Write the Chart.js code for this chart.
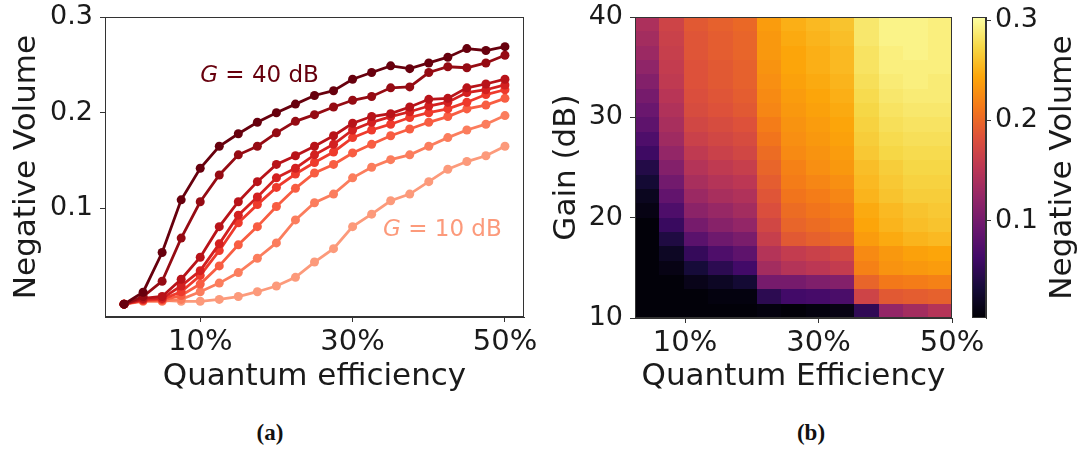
<!DOCTYPE html>
<html><head><meta charset="utf-8">
<script src="https://cdn.jsdelivr.net/npm/chart.js@4.4.1/dist/chart.umd.min.js"></script>
<style>
html,body{margin:0;padding:0;background:#fff;}
#wrap{position:relative;width:1085px;height:450px;overflow:hidden;background:#fff;}
canvas{position:absolute;top:0;}
.cap{position:absolute;top:433px;font-family:"Liberation Serif","Times New Roman",serif;font-weight:bold;font-size:23px;color:#111;transform:translate(-50%,-50%);white-space:nowrap;}
</style></head><body>
<div id="wrap">
<canvas id="ca" width="540" height="400" style="left:0px"></canvas>
<canvas id="cb" width="545" height="400" style="left:540px"></canvas>
<canvas id="cc" width="125" height="400" style="left:960px"></canvas>
<div class="cap" style="left:270px">(a)</div>
<div class="cap" style="left:811px">(b)</div>
</div>
<script>
// ---------- panel (a) data ----------
const efficiency = [0,2.5,5,7.5,10,12.5,15,17.5,20,22.5,25,27.5,30,32.5,35,37.5,40,42.5,45,47.5,50];
const gainLabels = ['G = 40 dB','G = 35 dB','G = 30 dB','G = 25 dB','G = 20 dB','G = 15 dB','G = 12.5 dB','G = 10 dB'];
const nvG40 = [0.000,0.0125,0.054,0.109,0.142,0.165,0.178,0.190,0.200,0.209,0.218,0.223,0.235,0.242,0.249,0.246,0.252,0.258,0.267,0.265,0.269];
const nvG35 = [0.000,0.008,0.024,0.069,0.107,0.135,0.156,0.165,0.179,0.191,0.198,0.206,0.213,0.217,0.226,0.227,0.242,0.248,0.247,0.252,0.260];
const nvG30 = [0.000,0.006,0.008,0.026,0.049,0.081,0.107,0.128,0.146,0.155,0.165,0.176,0.189,0.196,0.199,0.206,0.214,0.215,0.226,0.230,0.235];
const nvG25 = [0.000,0.005,0.006,0.019,0.035,0.063,0.093,0.112,0.132,0.142,0.156,0.167,0.182,0.190,0.196,0.201,0.207,0.211,0.221,0.224,0.229];
const nvG20 = [0.000,0.004,0.005,0.013,0.030,0.056,0.085,0.104,0.122,0.136,0.148,0.159,0.174,0.182,0.188,0.195,0.200,0.204,0.211,0.219,0.224];
const nvG15 = [0.000,0.004,0.004,0.009,0.021,0.040,0.062,0.081,0.102,0.121,0.137,0.146,0.158,0.167,0.176,0.183,0.190,0.196,0.204,0.208,0.215];
const nvG12 = [0.000,0.003,0.003,0.005,0.013,0.022,0.033,0.048,0.064,0.088,0.106,0.115,0.132,0.143,0.151,0.156,0.165,0.174,0.182,0.188,0.197];
const nvG10 = [0.000,0.006,0.004,0.003,0.003,0.005,0.008,0.013,0.019,0.028,0.044,0.058,0.081,0.094,0.108,0.115,0.128,0.141,0.149,0.155,0.165];
const seriesA = [nvG40,nvG35,nvG30,nvG25,nvG20,nvG15,nvG12,nvG10];
const lineColors = ['#67000d','#950b13','#b81319','#d32020','#ee3a2c','#f85d42','#fb7d5d','#fc9a7b'];
const xTicksA = [10,30,50];
const yTicksA = [0.1,0.2,0.3];

// ---------- panel (b) data ----------
// column centres (quantum efficiency, %) and row centres (gain, dB)
const heatEff = [4.33,7.98,11.63,15.29,18.94,22.60,26.25,29.90,33.56,37.21,40.87,44.52,48.17];
const heatGain = [10.71,12.14,13.57,15.00,16.43,17.86,19.29,20.71,22.14,23.57,25.00,26.43,27.86,29.29,30.71,32.14,33.57,35.00,36.43,37.86,39.29];
// negative volume per efficiency column, listed from lowest gain to highest gain
const nvEta01 = [0.006,0.006,0.006,0.006,0.006,0.006,0.006,0.012,0.018,0.030,0.042,0.060,0.072,0.084,0.093,0.102,0.111,0.120,0.129,0.135,0.141];
const nvEta02 = [0.006,0.006,0.006,0.012,0.021,0.039,0.057,0.072,0.087,0.099,0.111,0.123,0.132,0.138,0.144,0.150,0.156,0.159,0.162,0.165,0.168];
const nvEta03 = [0.006,0.006,0.015,0.033,0.054,0.081,0.102,0.117,0.129,0.138,0.147,0.156,0.165,0.171,0.177,0.180,0.183,0.183,0.186,0.186,0.189];
const nvEta04 = [0.006,0.009,0.021,0.048,0.072,0.096,0.114,0.126,0.138,0.147,0.156,0.165,0.171,0.177,0.183,0.186,0.189,0.189,0.192,0.192,0.195];
const nvEta05 = [0.006,0.009,0.030,0.063,0.084,0.105,0.123,0.135,0.144,0.153,0.162,0.171,0.177,0.183,0.189,0.192,0.195,0.195,0.198,0.198,0.201];
const nvEta06 = [0.009,0.048,0.102,0.135,0.147,0.162,0.171,0.180,0.186,0.192,0.198,0.204,0.210,0.216,0.222,0.225,0.228,0.231,0.234,0.234,0.237];
const nvEta07 = [0.006,0.063,0.102,0.147,0.159,0.189,0.198,0.204,0.210,0.216,0.219,0.225,0.228,0.231,0.234,0.237,0.240,0.243,0.243,0.246,0.249];
const nvEta08 = [0.009,0.066,0.108,0.153,0.165,0.195,0.204,0.210,0.216,0.222,0.228,0.231,0.234,0.237,0.240,0.243,0.246,0.249,0.249,0.252,0.255];
const nvEta09 = [0.012,0.069,0.111,0.159,0.171,0.201,0.210,0.216,0.222,0.228,0.234,0.237,0.240,0.243,0.246,0.249,0.252,0.255,0.255,0.258,0.261];
const nvEta10 = [0.051,0.168,0.198,0.219,0.225,0.237,0.243,0.246,0.252,0.255,0.258,0.264,0.267,0.270,0.273,0.276,0.279,0.282,0.282,0.285,0.285];
const nvEta11 = [0.123,0.189,0.213,0.231,0.234,0.246,0.252,0.255,0.261,0.264,0.267,0.273,0.276,0.279,0.282,0.285,0.288,0.291,0.291,0.294,0.294];
const nvEta12 = [0.135,0.192,0.216,0.234,0.240,0.252,0.258,0.261,0.267,0.270,0.273,0.276,0.279,0.282,0.285,0.288,0.291,0.291,0.294,0.294,0.294];
const nvEta13 = [0.147,0.195,0.219,0.237,0.243,0.255,0.261,0.264,0.267,0.270,0.273,0.276,0.279,0.282,0.285,0.288,0.288,0.291,0.291,0.291,0.291];
const heatColumns = [nvEta01,nvEta02,nvEta03,nvEta04,nvEta05,nvEta06,nvEta07,nvEta08,nvEta09,nvEta10,nvEta11,nvEta12,nvEta13];
const xTicksB = [10,30,50];
const yTicksB = [10,20,30,40];
const cbTicks = [0.1,0.2,0.3];
const cbMin = 0.003, cbMax = 0.303;

// ---------- helpers ----------
const FONT = '"DejaVu Sans", Verdana, sans-serif';
const TXT = '#1a1a1a';
const INFERNO = ['#000004','#160b39','#420a68','#6a176e','#932667','#bc3754','#dd513a','#f37819','#fca50a','#f6d746','#fcffa4'];
const infRGB = INFERNO.map(h=>[parseInt(h.slice(1,3),16),parseInt(h.slice(3,5),16),parseInt(h.slice(5,7),16)]);
function inferno(t){
  t = Math.max(0,Math.min(1,t));
  const p = t*(infRGB.length-1); const i = Math.min(Math.floor(p), infRGB.length-2); const f = p-i;
  const a = infRGB[i], b = infRGB[i+1];
  return 'rgb('+Math.round(a[0]+(b[0]-a[0])*f)+','+Math.round(a[1]+(b[1]-a[1])*f)+','+Math.round(a[2]+(b[2]-a[2])*f)+')';
}
function edges(c){
  const e = [];
  e.push(c[0]-(c[1]-c[0])/2);
  for(let i=0;i<c.length-1;i++) e.push((c[i]+c[i+1])/2);
  e.push(c[c.length-1]+(c[c.length-1]-c[c.length-2])/2);
  return e;
}
const frame = {
  id:'frame',
  afterDraw(chart){
    const {ctx, chartArea:a} = chart;
    ctx.save(); ctx.strokeStyle='#333'; ctx.lineWidth=1;
    ctx.strokeRect(Math.round(a.left)+0.5, Math.round(a.top)+0.5, Math.round(a.right-a.left)-1, Math.round(a.bottom-a.top)-1);
    ctx.restore();
  }
};
const tickGrid = {display:true, drawOnChartArea:false, drawTicks:true, tickLength:5, color:'#333', lineWidth:1};
const noPad = s=>{s.paddingLeft=0;s.paddingRight=0;s.paddingTop=0;s.paddingBottom=0;};

// ---------- panel (a) ----------
const annotations = [
  {g:'G', rest:' = 40 dB', x:10.0, y:0.2385, color:lineColors[0]},
  {g:'G', rest:' = 10 dB', x:34.0, y:0.077, color:lineColors[7]}
];
const annot = {
  id:'annot',
  afterDatasetsDraw(chart){
    const {ctx, scales:{x,y}} = chart;
    ctx.save(); ctx.textBaseline='middle'; ctx.textAlign='left';
    annotations.forEach(a=>{
      const px = x.getPixelForValue(a.x), py = y.getPixelForValue(a.y);
      ctx.fillStyle = a.color;
      ctx.font = 'italic 23px '+FONT; ctx.fillText(a.g, px, py);
      const w = ctx.measureText(a.g).width;
      ctx.font = '23px '+FONT; ctx.fillText(a.rest, px+w, py);
    });
    ctx.restore();
  }
};
new Chart(document.getElementById('ca'), {
  type:'line',
  data:{datasets: seriesA.map((s,k)=>({
    label: gainLabels[k],
    data: efficiency.map((e,i)=>({x:e, y:s[i]})),
    borderColor: lineColors[k], backgroundColor: lineColors[k],
    pointBackgroundColor: lineColors[k], pointBorderColor: lineColors[k],
    pointRadius:4.5, pointBorderWidth:0, borderWidth:2.8, tension:0, fill:false
  }))},
  options:{
    responsive:false, animation:false, devicePixelRatio:1,
    layout:{padding:{top:17,right:16,left:0,bottom:0}},
    plugins:{legend:{display:false}, tooltip:{enabled:false}},
    scales:{
      x:{type:'linear', min:-2.5, max:52.5,
        afterBuildTicks:s=>{s.ticks = xTicksA.map(v=>({value:v}));},
        afterFit:s=>{s.height=83; noPad(s);},
        ticks:{callback:v=>v+'%', font:{family:FONT,size:29}, color:TXT, padding:3, maxRotation:0, autoSkip:false},
        grid:tickGrid, border:{display:true,color:'#333'},
        title:{display:true, text:'Quantum efficiency', font:{family:FONT,size:31}, color:TXT, padding:{top:0,bottom:4}}
      },
      y:{type:'linear', min:-0.0134, max:0.3,
        afterBuildTicks:s=>{s.ticks = yTicksA.map(v=>({value:v}));},
        afterFit:s=>{s.width=105; noPad(s);},
        ticks:{callback:v=>v.toFixed(1), font:{family:FONT,size:27}, color:TXT, padding:7, autoSkip:false},
        grid:tickGrid, border:{display:true,color:'#333'},
        title:{display:true, text:'Negative Volume', font:{family:FONT,size:31}, color:TXT, padding:{top:8,bottom:0}}
      }
    }
  },
  plugins:[frame, annot]
});

// ---------- panel (b) ----------
const heat = {
  id:'heat',
  beforeDatasetsDraw(chart){
    const {ctx, scales:{x,y}} = chart;
    const ex = edges(heatEff), ey = edges(heatGain);
    ctx.save();
    heatColumns.forEach((col,i)=>{
      const x0 = Math.round(x.getPixelForValue(ex[i])), x1 = Math.round(x.getPixelForValue(ex[i+1]));
      col.forEach((v,j)=>{
        const y0 = Math.round(y.getPixelForValue(ey[j])), y1 = Math.round(y.getPixelForValue(ey[j+1]));
        ctx.fillStyle = inferno((v-cbMin)/(cbMax-cbMin));
        ctx.fillRect(x0, y1, x1-x0, y0-y1);
      });
    });
    ctx.restore();
  }
};
new Chart(document.getElementById('cb'), {
  type:'scatter',
  data:{datasets:[{data:[], pointRadius:0}]},
  options:{
    responsive:false, animation:false, devicePixelRatio:1,
    layout:{padding:{top:17,right:133,left:0,bottom:0}},
    plugins:{legend:{display:false}, tooltip:{enabled:false}},
    scales:{
      x:{type:'linear', min:2.5, max:50,
        afterBuildTicks:s=>{s.ticks = xTicksB.map(v=>({value:v}));},
        afterFit:s=>{s.height=82; noPad(s);},
        ticks:{callback:v=>v+'%', font:{family:FONT,size:29}, color:TXT, padding:3, maxRotation:0, autoSkip:false},
        grid:tickGrid, border:{display:true,color:'#333'},
        title:{display:true, text:'Quantum Efficiency', font:{family:FONT,size:31}, color:TXT, padding:{top:0,bottom:4}}
      },
      y:{type:'linear', min:10, max:40,
        afterBuildTicks:s=>{s.ticks = yTicksB.map(v=>({value:v}));},
        afterFit:s=>{s.width=95; noPad(s);},
        ticks:{font:{family:FONT,size:27}, color:TXT, padding:7, autoSkip:false},
        grid:tickGrid, border:{display:true,color:'#333'},
        title:{display:true, text:'Gain (dB)', font:{family:FONT,size:31}, color:TXT, padding:{top:8,bottom:0}}
      }
    }
  },
  plugins:[heat, frame]
});

// ---------- colorbar ----------
const cbar = {
  id:'cbar',
  beforeDatasetsDraw(chart){
    const {ctx, chartArea:a, scales:{y}} = chart;
    ctx.save();
    for(let py=Math.floor(a.top); py<Math.ceil(a.bottom); py++){
      const v = y.getValueForPixel(py+0.5);
      ctx.fillStyle = inferno((v-cbMin)/(cbMax-cbMin));
      ctx.fillRect(a.left, py, a.right-a.left, 1);
    }
    ctx.restore();
  },
  afterDraw(chart){
    const {ctx, chartArea:a} = chart;
    ctx.save();
    ctx.translate(103, (a.top+a.bottom)/2);
    ctx.rotate(-Math.PI/2);
    ctx.font = '31px '+FONT; ctx.fillStyle = TXT; ctx.textAlign='center'; ctx.textBaseline='middle';
    ctx.fillText('Negative Volume', 0, 0);
    ctx.restore();
  }
};
new Chart(document.getElementById('cc'), {
  type:'scatter',
  data:{datasets:[{data:[], pointRadius:0}]},
  options:{
    responsive:false, animation:false, devicePixelRatio:1,
    layout:{padding:{top:17,right:0,left:12,bottom:82}},
    plugins:{legend:{display:false}, tooltip:{enabled:false}},
    scales:{
      x:{type:'linear', display:false, min:0, max:1},
      y:{type:'linear', position:'right', min:cbMin, max:cbMax,
        afterBuildTicks:s=>{s.ticks = cbTicks.map(v=>({value:v}));},
        afterFit:s=>{s.width=99; noPad(s);},
        ticks:{callback:v=>v.toFixed(1), font:{family:FONT,size:27}, color:TXT, padding:4, autoSkip:false},
        grid:tickGrid, border:{display:true,color:'#333'}
      }
    }
  },
  plugins:[cbar, frame]
});
</script>
</body></html>
